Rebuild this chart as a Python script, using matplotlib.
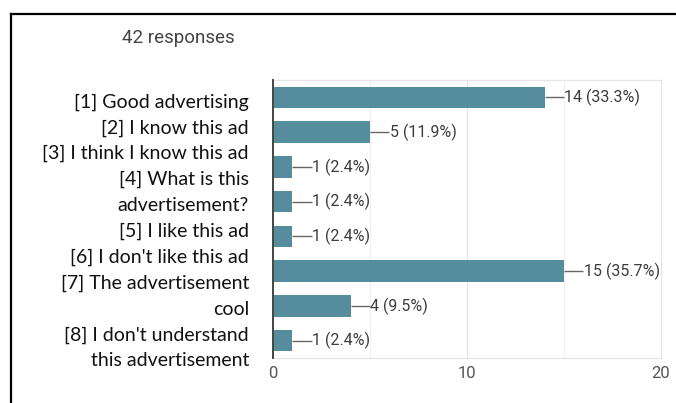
import matplotlib
matplotlib.use("Agg")
import matplotlib.pyplot as plt
from matplotlib.lines import Line2D

categories = ["[1] Good advertising", "[2] I know this ad", "[3] I think I know this ad",
              "[4] What is this\nadvertisement?", "[5] I like this ad", "[6] I don't like this ad",
              "[7] The advertisement\ncool", "[8] I don't understand\nthis advertisement"]
counts = [14, 5, 1, 1, 1, 15, 4, 1]
percents = ["33.3%", "11.9%", "2.4%", "2.4%", "2.4%", "35.7%", "9.5%", "2.4%"]
xticks = [0, 10, 20]
title = "42 responses"

W, H = 676, 403
fig = plt.figure(figsize=(W / 100, H / 100), dpi=100)
fig.patch.set_facecolor("white")

# outer black frame (open at right and bottom edges)
fig.add_artist(Line2D([11 / W, 11 / W], [0, 1 - 14 / H], color="black", lw=1.6, transform=fig.transFigure))
fig.add_artist(Line2D([11 / W, 1.0], [1 - 14 / H, 1 - 14 / H], color="black", lw=1.6, transform=fig.transFigure))

ax = fig.add_axes([273 / W, 1 - 358 / H, (661 - 273) / W, (358 - 80) / H])
bar_color = "#558d9c"
ypos = list(range(len(counts)))
ax.barh(ypos, counts, height=0.62, color=bar_color, zorder=3)
ax.set_xlim(0, 20)
ax.set_ylim(len(counts) - 0.5, -0.5)

for y, c, p in zip(ypos, counts, percents):
    ax.plot([c, c + 1.0], [y, y], color="#666666", lw=1.0, zorder=4, solid_capstyle="butt")
    ax.text(c + 1.02, y, f"{c} ({p})", va="center", ha="left", fontsize=11.5,
            family="Roboto", color="#3c3c3c", zorder=5)

for gx in [5, 15]:
    ax.axvline(gx, color="#f0f0f0", lw=0.8, zorder=1)
for gx in [10]:
    ax.axvline(gx, color="#e4e4e4", lw=0.9, zorder=1)

for s in ["top", "right", "bottom"]:
    ax.spines[s].set_color("#e6e6e6")
    ax.spines[s].set_linewidth(0.9)
ax.spines["left"].set_color("#444444")
ax.spines["left"].set_linewidth(1.4)
ax.spines["left"].set_zorder(6)

ax.set_yticks([])
ax.set_xticks(xticks)
ax.set_xticklabels([str(t) for t in xticks], family="Roboto", fontsize=12, color="#555555")
ax.tick_params(axis="x", length=0, pad=6)

fig.text(122 / W, 1 - 38 / H, title, ha="left", va="center", family="Roboto",
         fontsize=13.5, color="#444444")

lines = []
for cat in categories:
    lines.extend(cat.split("\n"))
y0, step = 102, 25.9
for i, ln in enumerate(lines):
    fig.text(249 / W, 1 - (y0 + i * step) / H, ln, ha="right", va="center",
             family="Lato", fontsize=14, color="#111111")

fig.savefig("out.png", dpi=100)
